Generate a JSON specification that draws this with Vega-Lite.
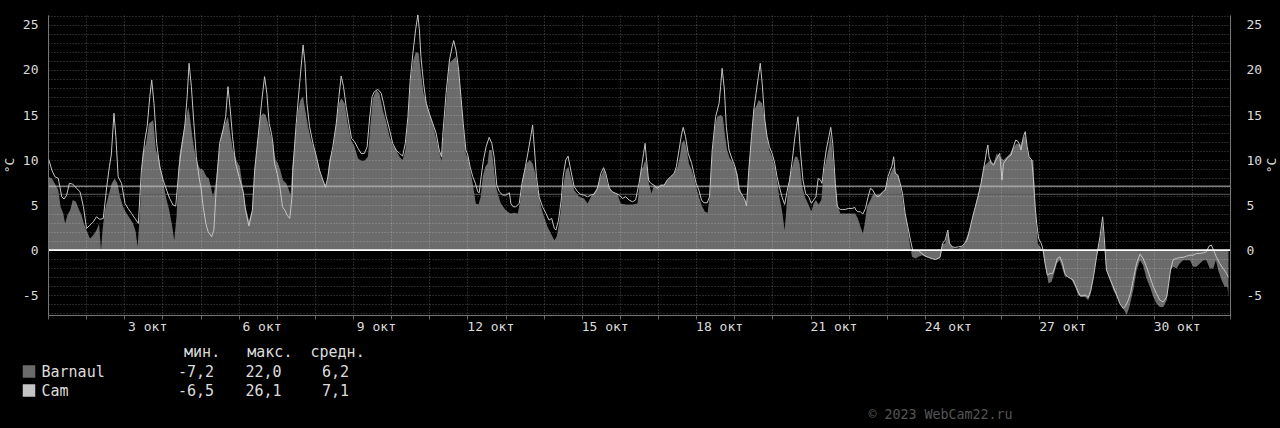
{
  "$schema": "https://vega.github.io/schema/vega-lite/v6.json",
  "background": "#000000",
  "autosize": {"type": "none"},
  "padding": {"left": 48, "top": 15, "right": 50, "bottom": 113},
  "width": 1182,
  "height": 300,
  "config": {
    "view": {"stroke": null},
    "font": "DejaVu Sans Mono",
    "axis": {"labelFont": "DejaVu Sans Mono", "titleFont": "DejaVu Sans Mono", "labelColor": "#dcdcdc", "titleColor": "#dcdcdc", "labelFontSize": 13, "titleFontSize": 13, "titleFontWeight": "normal"}
  },
  "datasets": {
    "barnaul": [
      {"d":0.01,"v":8.15},{"d":0.10,"v":7.96},{"d":0.18,"v":7.41},{"d":0.27,"v":6.67},{"d":0.33,"v":4.81},{"d":0.40,"v":4.07},{"d":0.45,"v":2.96},{"d":0.51,"v":3.89},{"d":0.58,"v":4.44},{"d":0.65,"v":5.56},{"d":0.73,"v":5.37},{"d":0.82,"v":4.44},{"d":0.88,"v":3.89},{"d":0.94,"v":2.96},{"d":1.01,"v":2.22},{"d":1.10,"v":1.30},{"d":1.19,"v":1.67},{"d":1.27,"v":2.22},{"d":1.34,"v":2.96},{"d":1.39,"v":0.0},{"d":1.43,"v":2.22},{"d":1.49,"v":4.44},{"d":1.58,"v":5.93},{"d":1.67,"v":7.41},{"d":1.75,"v":7.96},{"d":1.82,"v":7.41},{"d":1.89,"v":5.93},{"d":1.97,"v":4.81},{"d":2.06,"v":4.07},{"d":2.15,"v":3.52},{"d":2.23,"v":2.96},{"d":2.30,"v":2.04},{"d":2.35,"v":0.37},{"d":2.41,"v":4.07},{"d":2.48,"v":10.74},{"d":2.57,"v":11.85},{"d":2.65,"v":14.07},{"d":2.76,"v":14.44},{"d":2.83,"v":11.11},{"d":2.92,"v":10.0},{"d":3.00,"v":8.15},{"d":3.09,"v":5.93},{"d":3.18,"v":4.44},{"d":3.26,"v":2.59},{"d":3.31,"v":1.11},{"d":3.37,"v":3.70},{"d":3.44,"v":10.37},{"d":3.53,"v":12.59},{"d":3.63,"v":14.81},{"d":3.68,"v":15.93},{"d":3.72,"v":14.81},{"d":3.81,"v":11.85},{"d":3.89,"v":10.0},{"d":3.98,"v":9.07},{"d":4.07,"v":8.89},{"d":4.16,"v":8.15},{"d":4.22,"v":7.96},{"d":4.29,"v":6.67},{"d":4.33,"v":5.93},{"d":4.40,"v":7.59},{"d":4.46,"v":10.0},{"d":4.55,"v":12.96},{"d":4.64,"v":14.07},{"d":4.72,"v":14.81},{"d":4.78,"v":12.96},{"d":4.85,"v":11.11},{"d":4.94,"v":10.0},{"d":5.03,"v":9.26},
      {"d":5.12,"v":6.67},{"d":5.18,"v":4.81},{"d":5.27,"v":3.33},{"d":5.36,"v":4.44},{"d":5.42,"v":8.89},{"d":5.51,"v":12.59},{"d":5.57,"v":14.81},{"d":5.64,"v":15.19},{"d":5.71,"v":15.0},{"d":5.77,"v":14.07},{"d":5.83,"v":12.96},{"d":5.90,"v":11.85},{"d":5.97,"v":10.0},{"d":6.03,"v":9.63},{"d":6.09,"v":8.89},{"d":6.16,"v":7.78},{"d":6.25,"v":7.41},{"d":6.32,"v":6.67},{"d":6.36,"v":6.11},{"d":6.41,"v":9.26},{"d":6.47,"v":11.85},{"d":6.56,"v":15.56},{"d":6.62,"v":16.67},{"d":6.69,"v":17.04},{"d":6.73,"v":15.93},{"d":6.82,"v":13.70},{"d":6.90,"v":12.22},{"d":6.99,"v":11.11},{"d":7.08,"v":9.63},{"d":7.17,"v":8.15},{"d":7.25,"v":7.41},{"d":7.31,"v":7.22},{"d":7.38,"v":10.0},{"d":7.47,"v":11.11},{"d":7.56,"v":14.07},{"d":7.63,"v":16.30},{"d":7.69,"v":16.85},{"d":7.78,"v":16.30},{"d":7.86,"v":14.07},{"d":7.95,"v":12.22},{"d":8.04,"v":11.48},{"d":8.13,"v":10.19},{"d":8.21,"v":9.93},{"d":8.30,"v":9.93},{"d":8.39,"v":10.37},{"d":8.45,"v":13.70},{"d":8.52,"v":16.85},{"d":8.61,"v":17.78},{"d":8.69,"v":17.41},{"d":8.78,"v":15.56},{"d":8.87,"v":14.26},{"d":8.96,"v":12.59},{"d":9.04,"v":11.67},{"d":9.13,"v":11.11},{"d":9.22,"v":10.37},{"d":9.30,"v":10.0},{"d":9.37,"v":11.11},{"d":9.44,"v":14.44},{"d":9.52,"v":19.26},{"d":9.58,"v":21.11},{"d":9.65,"v":22.0},{"d":9.72,"v":21.85},{"d":9.78,"v":19.63},{"d":9.85,"v":17.41},{"d":9.92,"v":16.48},{"d":10.00,"v":15.19},{"d":10.09,"v":14.07},{"d":10.18,"v":12.41},{"d":10.26,"v":10.93},{"d":10.32,"v":9.93},
      {"d":10.35,"v":11.85},{"d":10.44,"v":16.30},{"d":10.53,"v":20.74},{"d":10.61,"v":21.11},{"d":10.70,"v":21.48},{"d":10.77,"v":19.81},{"d":10.83,"v":17.04},{"d":10.89,"v":13.70},{"d":10.96,"v":10.74},{"d":11.03,"v":10.0},{"d":11.09,"v":8.52},{"d":11.14,"v":7.41},{"d":11.18,"v":6.30},{"d":11.22,"v":5.19},{"d":11.29,"v":5.07},{"d":11.35,"v":5.93},{"d":11.40,"v":8.15},{"d":11.47,"v":9.26},{"d":11.53,"v":9.63},{"d":11.57,"v":11.11},{"d":11.64,"v":11.11},{"d":11.69,"v":9.26},{"d":11.75,"v":7.04},{"d":11.82,"v":5.93},{"d":11.88,"v":5.19},{"d":11.97,"v":4.63},{"d":12.05,"v":4.26},{"d":12.14,"v":4.07},{"d":12.23,"v":4.15},{"d":12.32,"v":4.07},{"d":12.39,"v":5.56},{"d":12.46,"v":8.15},{"d":12.55,"v":9.63},{"d":12.64,"v":10.0},{"d":12.71,"v":9.63},{"d":12.78,"v":8.52},{"d":12.84,"v":6.67},{"d":12.93,"v":4.81},{"d":13.01,"v":3.70},{"d":13.10,"v":2.59},{"d":13.19,"v":1.85},{"d":13.28,"v":1.11},{"d":13.34,"v":1.48},{"d":13.39,"v":2.59},{"d":13.45,"v":4.44},{"d":13.51,"v":7.04},{"d":13.58,"v":8.89},{"d":13.65,"v":9.26},{"d":13.71,"v":8.15},{"d":13.80,"v":6.67},{"d":13.93,"v":5.93},{"d":14.06,"v":5.74},{"d":14.15,"v":5.19},{"d":14.24,"v":5.93},{"d":14.37,"v":6.67},{"d":14.50,"v":8.15},{"d":14.59,"v":9.07},{"d":14.67,"v":7.41},{"d":14.80,"v":6.48},{"d":14.93,"v":6.30},{"d":15.02,"v":5.19},{"d":15.15,"v":5.07},{"d":15.33,"v":5.07},{"d":15.46,"v":5.19},
      {"d":15.55,"v":8.89},{"d":15.61,"v":9.26},{"d":15.66,"v":10.0},{"d":15.71,"v":9.26},{"d":15.76,"v":7.41},{"d":15.83,"v":6.30},{"d":15.89,"v":7.22},{"d":15.98,"v":7.04},{"d":16.07,"v":7.22},{"d":16.16,"v":7.22},{"d":16.24,"v":7.78},{"d":16.33,"v":8.15},{"d":16.42,"v":8.52},{"d":16.51,"v":9.26},{"d":16.57,"v":10.37},{"d":16.62,"v":11.85},{"d":16.68,"v":12.22},{"d":16.74,"v":11.48},{"d":16.81,"v":9.63},{"d":16.88,"v":8.89},{"d":16.94,"v":8.15},{"d":17.00,"v":7.04},{"d":17.07,"v":5.93},{"d":17.16,"v":4.81},{"d":17.23,"v":4.26},{"d":17.30,"v":4.15},{"d":17.35,"v":5.93},{"d":17.42,"v":10.74},{"d":17.49,"v":13.70},{"d":17.55,"v":14.81},{"d":17.64,"v":15.0},{"d":17.70,"v":14.81},{"d":17.75,"v":12.96},{"d":17.81,"v":11.11},{"d":17.88,"v":10.19},{"d":17.95,"v":9.81},{"d":18.02,"v":9.07},{"d":18.08,"v":8.52},{"d":18.14,"v":7.04},{"d":18.21,"v":5.93},{"d":18.28,"v":5.56},{"d":18.32,"v":4.81},{"d":18.38,"v":8.89},{"d":18.45,"v":12.59},{"d":18.51,"v":15.56},{"d":18.57,"v":15.93},{"d":18.64,"v":16.67},{"d":18.73,"v":16.30},{"d":18.80,"v":14.44},{"d":18.86,"v":12.59},{"d":18.92,"v":11.11},{"d":18.99,"v":10.37},{"d":19.06,"v":9.26},{"d":19.12,"v":7.78},{"d":19.18,"v":5.93},{"d":19.25,"v":4.44},{"d":19.32,"v":2.22},{"d":19.39,"v":5.93},{"d":19.45,"v":8.15},{"d":19.52,"v":9.26},{"d":19.59,"v":10.37},{"d":19.65,"v":10.37},{"d":19.71,"v":9.63},{"d":19.78,"v":7.04},{"d":19.85,"v":5.93},{"d":19.91,"v":5.37},{"d":19.97,"v":4.81},{"d":20.02,"v":4.26},{"d":20.08,"v":5.19},{"d":20.14,"v":5.56},{"d":20.21,"v":5.07},{"d":20.28,"v":5.56},{"d":20.35,"v":8.89},{"d":20.41,"v":10.0},{"d":20.48,"v":11.48},{"d":20.53,"v":12.96},{"d":20.58,"v":10.37},{"d":20.65,"v":7.41},{"d":20.70,"v":5.19},{"d":20.78,"v":4.07},{"d":20.84,"v":4.07},
      {"d":20.91,"v":4.07},{"d":21.09,"v":4.07},{"d":21.17,"v":4.07},{"d":21.24,"v":3.52},{"d":21.31,"v":2.59},{"d":21.37,"v":1.85},{"d":21.42,"v":2.96},{"d":21.48,"v":4.81},{"d":21.57,"v":5.56},{"d":21.65,"v":6.30},{"d":21.74,"v":6.11},{"d":21.83,"v":6.30},{"d":21.92,"v":6.48},{"d":22.00,"v":7.41},{"d":22.09,"v":8.52},{"d":22.18,"v":9.26},{"d":22.24,"v":8.52},{"d":22.31,"v":8.15},{"d":22.38,"v":6.48},{"d":22.44,"v":4.81},{"d":22.53,"v":2.96},{"d":22.59,"v":1.11},{"d":22.66,"v":-0.74},{"d":22.75,"v":-0.93},{"d":22.83,"v":-0.74},{"d":22.92,"v":-0.56},{"d":23.01,"v":-0.74},{"d":23.14,"v":-0.93},{"d":23.27,"v":-1.04},{"d":23.40,"v":-0.93},{"d":23.46,"v":0.74},{"d":23.53,"v":0.74},{"d":23.60,"v":2.04},{"d":23.66,"v":0.74},{"d":23.75,"v":0.19},{"d":23.88,"v":0.19},{"d":24.01,"v":0.56},{"d":24.10,"v":1.48},{"d":24.19,"v":2.59},{"d":24.27,"v":4.07},{"d":24.36,"v":5.56},{"d":24.45,"v":7.04},{"d":24.54,"v":9.26},{"d":24.62,"v":9.63},{"d":24.71,"v":10.0},{"d":24.80,"v":9.63},{"d":24.88,"v":10.74},{"d":24.97,"v":10.37},{"d":25.06,"v":10.0},{"d":25.15,"v":10.37},{"d":25.23,"v":10.74},{"d":25.32,"v":11.48},{"d":25.41,"v":11.85},{"d":25.50,"v":11.67},{"d":25.56,"v":12.22},{"d":25.63,"v":12.78},{"d":25.70,"v":10.74},{"d":25.77,"v":10.0},{"d":25.84,"v":10.0},{"d":25.87,"v":7.41},{"d":25.91,"v":3.70},{"d":25.96,"v":0.74},{"d":26.02,"v":0.37},{"d":26.08,"v":0.0},
      {"d":26.18,"v":-2.22},{"d":26.24,"v":-3.70},{"d":26.32,"v":-3.52},{"d":26.39,"v":-2.59},{"d":26.46,"v":-1.48},{"d":26.53,"v":-1.11},{"d":26.59,"v":-1.85},{"d":26.67,"v":-2.96},{"d":26.76,"v":-2.96},{"d":26.85,"v":-3.33},{"d":26.94,"v":-4.07},{"d":27.02,"v":-5.0},{"d":27.11,"v":-5.19},{"d":27.20,"v":-5.19},{"d":27.28,"v":-5.56},{"d":27.35,"v":-4.81},{"d":27.42,"v":-2.96},{"d":27.50,"v":-0.74},{"d":27.59,"v":1.11},{"d":27.66,"v":2.96},{"d":27.70,"v":0.74},{"d":27.76,"v":-2.22},{"d":27.85,"v":-3.33},{"d":27.94,"v":-4.44},{"d":28.03,"v":-5.19},{"d":28.11,"v":-5.93},{"d":28.20,"v":-6.48},{"d":28.29,"v":-7.19},{"d":28.36,"v":-6.30},{"d":28.42,"v":-5.19},{"d":28.48,"v":-4.07},{"d":28.55,"v":-2.22},{"d":28.64,"v":-1.11},{"d":28.72,"v":-1.67},{"d":28.81,"v":-3.15},{"d":28.90,"v":-4.07},{"d":28.99,"v":-5.19},{"d":29.07,"v":-5.93},{"d":29.16,"v":-6.30},{"d":29.25,"v":-6.30},{"d":29.34,"v":-5.56},{"d":29.38,"v":-4.07},{"d":29.44,"v":-2.22},{"d":29.51,"v":-1.85},{"d":29.60,"v":-2.04},{"d":29.68,"v":-1.48},{"d":29.77,"v":-1.11},{"d":29.86,"v":-1.11},{"d":29.95,"v":-1.11},{"d":30.03,"v":-1.85},{"d":30.12,"v":-1.85},{"d":30.21,"v":-1.48},{"d":30.30,"v":-1.11},{"d":30.38,"v":-1.11},{"d":30.47,"v":-2.04},{"d":30.56,"v":-2.04},{"d":30.63,"v":-1.11},{"d":30.69,"v":-2.22},{"d":30.78,"v":-3.33},{"d":30.86,"v":-4.07},{"d":30.93,"v":-4.07},{"d":30.96,"v":-5.19}
    ],
    "cam": [
      {"d":0.01,"v":10.19},{"d":0.10,"v":8.89},{"d":0.18,"v":8.15},{"d":0.27,"v":7.96},{"d":0.36,"v":5.93},{"d":0.42,"v":5.67},{"d":0.49,"v":6.11},{"d":0.56,"v":7.41},{"d":0.65,"v":7.33},{"d":0.75,"v":6.85},{"d":0.84,"v":6.48},{"d":0.93,"v":4.81},{"d":1.01,"v":2.41},{"d":1.10,"v":2.78},{"d":1.19,"v":3.15},{"d":1.27,"v":3.70},{"d":1.36,"v":3.41},{"d":1.45,"v":3.52},{"d":1.54,"v":7.04},{"d":1.61,"v":9.26},{"d":1.66,"v":10.56},{"d":1.73,"v":15.19},{"d":1.78,"v":12.59},{"d":1.84,"v":8.15},{"d":1.93,"v":7.41},{"d":2.02,"v":5.19},{"d":2.10,"v":4.63},{"d":2.19,"v":4.07},{"d":2.28,"v":3.52},{"d":2.37,"v":2.96},{"d":2.45,"v":8.89},{"d":2.54,"v":12.22},{"d":2.60,"v":13.70},{"d":2.67,"v":17.04},{"d":2.72,"v":18.89},{"d":2.78,"v":16.30},{"d":2.85,"v":11.85},{"d":2.93,"v":9.26},{"d":3.02,"v":7.78},{"d":3.11,"v":6.67},{"d":3.19,"v":5.74},{"d":3.28,"v":5.0},{"d":3.35,"v":4.89},{"d":3.44,"v":9.26},{"d":3.50,"v":11.30},{"d":3.59,"v":13.89},{"d":3.65,"v":17.04},{"d":3.70,"v":20.74},{"d":3.76,"v":18.15},{"d":3.82,"v":14.44},{"d":3.89,"v":10.37},{"d":3.96,"v":8.15},{"d":4.02,"v":6.67},{"d":4.07,"v":4.81},{"d":4.14,"v":2.96},{"d":4.20,"v":2.04},{"d":4.29,"v":1.48},{"d":4.35,"v":2.22},{"d":4.42,"v":7.41},{"d":4.50,"v":11.85},{"d":4.59,"v":13.33},{"d":4.66,"v":14.81},{"d":4.72,"v":18.15},{"d":4.78,"v":15.56},{"d":4.84,"v":12.59},{"d":4.92,"v":9.63},{"d":5.01,"v":8.15},
      {"d":5.12,"v":6.48},{"d":5.18,"v":4.44},{"d":5.27,"v":2.67},{"d":5.36,"v":4.44},{"d":5.42,"v":8.89},{"d":5.51,"v":12.59},{"d":5.60,"v":16.30},{"d":5.68,"v":19.26},{"d":5.74,"v":17.41},{"d":5.80,"v":14.07},{"d":5.86,"v":12.96},{"d":5.90,"v":11.85},{"d":5.94,"v":9.63},{"d":6.01,"v":8.52},{"d":6.08,"v":7.04},{"d":6.15,"v":4.81},{"d":6.21,"v":4.44},{"d":6.27,"v":3.89},{"d":6.34,"v":3.52},{"d":6.40,"v":5.93},{"d":6.42,"v":8.89},{"d":6.51,"v":14.07},{"d":6.60,"v":18.52},{"d":6.69,"v":22.78},{"d":6.74,"v":20.74},{"d":6.79,"v":16.30},{"d":6.86,"v":13.70},{"d":6.95,"v":11.85},{"d":7.04,"v":10.37},{"d":7.12,"v":8.89},{"d":7.21,"v":7.78},{"d":7.28,"v":6.96},{"d":7.34,"v":8.15},{"d":7.40,"v":10.0},{"d":7.47,"v":11.48},{"d":7.56,"v":14.07},{"d":7.63,"v":17.04},{"d":7.69,"v":19.33},{"d":7.75,"v":18.15},{"d":7.82,"v":15.93},{"d":7.89,"v":14.07},{"d":7.96,"v":12.41},{"d":8.04,"v":12.04},{"d":8.13,"v":11.30},{"d":8.21,"v":10.74},{"d":8.30,"v":10.74},{"d":8.37,"v":11.48},{"d":8.43,"v":14.44},{"d":8.50,"v":17.04},{"d":8.56,"v":17.59},{"d":8.65,"v":17.85},{"d":8.74,"v":17.41},{"d":8.80,"v":16.30},{"d":8.87,"v":14.81},{"d":8.96,"v":13.33},{"d":9.04,"v":11.85},{"d":9.13,"v":11.11},{"d":9.22,"v":10.74},{"d":9.30,"v":10.44},{"d":9.37,"v":11.85},{"d":9.44,"v":14.81},{"d":9.50,"v":18.89},{"d":9.57,"v":21.85},{"d":9.64,"v":24.44},{"d":9.70,"v":26.11},{"d":9.74,"v":24.44},{"d":9.78,"v":21.48},{"d":9.85,"v":18.52},{"d":9.92,"v":16.30},{"d":10.00,"v":15.19},{"d":10.09,"v":14.07},{"d":10.18,"v":12.96},{"d":10.26,"v":11.11},{"d":10.32,"v":10.37},
      {"d":10.35,"v":12.59},{"d":10.44,"v":17.41},{"d":10.53,"v":21.11},{"d":10.60,"v":22.59},{"d":10.64,"v":23.26},{"d":10.70,"v":22.22},{"d":10.77,"v":20.0},{"d":10.83,"v":17.04},{"d":10.89,"v":14.07},{"d":10.96,"v":11.11},{"d":11.01,"v":10.56},{"d":11.07,"v":9.26},{"d":11.14,"v":8.15},{"d":11.21,"v":7.41},{"d":11.27,"v":6.48},{"d":11.31,"v":6.37},{"d":11.36,"v":8.15},{"d":11.42,"v":10.0},{"d":11.49,"v":11.48},{"d":11.57,"v":12.52},{"d":11.64,"v":11.85},{"d":11.70,"v":10.37},{"d":11.77,"v":7.22},{"d":11.84,"v":6.48},{"d":11.92,"v":6.11},{"d":12.01,"v":6.11},{"d":12.10,"v":6.37},{"d":12.14,"v":5.19},{"d":12.20,"v":4.81},{"d":12.27,"v":4.81},{"d":12.36,"v":5.19},{"d":12.43,"v":7.41},{"d":12.52,"v":9.26},{"d":12.60,"v":11.11},{"d":12.66,"v":12.59},{"d":12.71,"v":13.89},{"d":12.76,"v":11.11},{"d":12.81,"v":8.15},{"d":12.88,"v":5.93},{"d":12.97,"v":4.81},{"d":13.06,"v":4.07},{"d":13.14,"v":3.33},{"d":13.21,"v":3.52},{"d":13.28,"v":2.41},{"d":13.32,"v":2.22},{"d":13.39,"v":3.33},{"d":13.46,"v":5.56},{"d":13.51,"v":8.15},{"d":13.58,"v":10.0},{"d":13.64,"v":10.44},{"d":13.71,"v":8.89},{"d":13.80,"v":7.04},{"d":13.89,"v":6.48},{"d":13.97,"v":6.19},{"d":14.06,"v":6.11},{"d":14.15,"v":5.93},{"d":14.24,"v":6.11},{"d":14.32,"v":6.19},{"d":14.41,"v":6.85},{"d":14.50,"v":8.52},{"d":14.57,"v":9.15},{"d":14.63,"v":8.52},{"d":14.72,"v":6.85},{"d":14.80,"v":6.48},{"d":14.89,"v":6.30},{"d":14.98,"v":6.11},{"d":15.07,"v":5.74},{"d":15.15,"v":5.93},{"d":15.24,"v":5.56},{"d":15.33,"v":5.37},{"d":15.41,"v":5.56},{"d":15.50,"v":7.41},
      {"d":15.57,"v":9.26},{"d":15.62,"v":10.74},{"d":15.66,"v":11.85},{"d":15.69,"v":10.37},{"d":15.75,"v":7.78},{"d":15.81,"v":7.41},{"d":15.89,"v":7.22},{"d":15.98,"v":6.85},{"d":16.07,"v":7.22},{"d":16.16,"v":7.22},{"d":16.24,"v":7.78},{"d":16.33,"v":8.15},{"d":16.42,"v":8.52},{"d":16.48,"v":9.26},{"d":16.55,"v":11.11},{"d":16.62,"v":12.96},{"d":16.66,"v":13.63},{"d":16.72,"v":12.59},{"d":16.79,"v":10.74},{"d":16.88,"v":9.63},{"d":16.94,"v":8.52},{"d":17.00,"v":7.41},{"d":17.07,"v":6.67},{"d":17.14,"v":5.56},{"d":17.20,"v":5.26},{"d":17.29,"v":5.26},{"d":17.35,"v":5.93},{"d":17.42,"v":11.11},{"d":17.51,"v":14.81},{"d":17.60,"v":16.30},{"d":17.64,"v":18.15},{"d":17.68,"v":20.19},{"d":17.74,"v":17.78},{"d":17.79,"v":13.70},{"d":17.86,"v":11.11},{"d":17.95,"v":10.0},{"d":18.02,"v":9.26},{"d":18.08,"v":8.15},{"d":18.12,"v":6.67},{"d":18.21,"v":6.11},{"d":18.28,"v":5.56},{"d":18.32,"v":4.89},{"d":18.38,"v":8.89},{"d":18.45,"v":12.59},{"d":18.51,"v":15.56},{"d":18.57,"v":17.41},{"d":18.63,"v":19.26},{"d":18.68,"v":20.74},{"d":18.73,"v":18.52},{"d":18.80,"v":14.44},{"d":18.86,"v":12.59},{"d":18.92,"v":11.48},{"d":18.99,"v":10.74},{"d":19.06,"v":9.63},{"d":19.12,"v":8.15},{"d":19.18,"v":7.04},{"d":19.25,"v":5.93},{"d":19.32,"v":5.07},{"d":19.39,"v":6.67},{"d":19.45,"v":7.78},{"d":19.52,"v":10.0},{"d":19.59,"v":12.59},{"d":19.63,"v":13.70},{"d":19.67,"v":14.81},{"d":19.73,"v":11.11},{"d":19.80,"v":7.78},{"d":19.87,"v":6.30},{"d":19.95,"v":5.93},{"d":20.02,"v":5.19},{"d":20.08,"v":5.56},{"d":20.14,"v":5.93},{"d":20.20,"v":7.96},{"d":20.26,"v":7.78},{"d":20.30,"v":7.41},{"d":20.35,"v":9.26},{"d":20.41,"v":11.11},{"d":20.48,"v":12.59},{"d":20.53,"v":13.63},{"d":20.58,"v":11.85},{"d":20.65,"v":7.41},{"d":20.70,"v":4.81},{"d":20.78,"v":4.52},{"d":20.84,"v":4.52},
      {"d":20.91,"v":4.52},{"d":21.00,"v":4.63},{"d":21.09,"v":4.63},{"d":21.16,"v":4.74},{"d":21.19,"v":4.44},{"d":21.24,"v":4.26},{"d":21.31,"v":4.26},{"d":21.37,"v":4.0},{"d":21.44,"v":4.63},{"d":21.51,"v":5.93},{"d":21.57,"v":6.85},{"d":21.63,"v":6.67},{"d":21.70,"v":6.11},{"d":21.77,"v":5.93},{"d":21.83,"v":6.11},{"d":21.89,"v":6.48},{"d":21.96,"v":6.67},{"d":22.03,"v":8.15},{"d":22.09,"v":8.89},{"d":22.13,"v":9.26},{"d":22.18,"v":10.37},{"d":22.22,"v":8.52},{"d":22.29,"v":8.33},{"d":22.35,"v":7.41},{"d":22.41,"v":6.30},{"d":22.48,"v":4.07},{"d":22.55,"v":2.59},{"d":22.62,"v":1.11},{"d":22.68,"v":-0.07},{"d":22.75,"v":-0.07},{"d":22.83,"v":-0.07},{"d":22.92,"v":-0.37},{"d":23.01,"v":-0.67},{"d":23.10,"v":-0.81},{"d":23.18,"v":-0.93},{"d":23.27,"v":-1.04},{"d":23.34,"v":-0.93},{"d":23.40,"v":-0.74},{"d":23.46,"v":0.74},{"d":23.53,"v":1.11},{"d":23.60,"v":2.22},{"d":23.64,"v":0.74},{"d":23.71,"v":0.37},{"d":23.79,"v":0.30},{"d":23.88,"v":0.37},{"d":23.97,"v":0.44},{"d":24.04,"v":0.74},{"d":24.10,"v":1.11},{"d":24.17,"v":2.22},{"d":24.23,"v":3.33},{"d":24.32,"v":4.81},{"d":24.40,"v":6.11},{"d":24.47,"v":7.41},{"d":24.54,"v":9.07},{"d":24.58,"v":10.0},{"d":24.62,"v":11.11},{"d":24.65,"v":11.67},{"d":24.68,"v":10.37},{"d":24.74,"v":9.63},{"d":24.80,"v":9.44},{"d":24.84,"v":9.81},{"d":24.91,"v":10.37},{"d":24.96,"v":10.74},{"d":25.02,"v":7.78},{"d":25.06,"v":9.63},{"d":25.12,"v":10.0},{"d":25.19,"v":10.37},{"d":25.26,"v":10.56},{"d":25.32,"v":11.48},{"d":25.38,"v":12.22},{"d":25.45,"v":12.04},{"d":25.52,"v":11.11},{"d":25.58,"v":12.59},{"d":25.63,"v":13.15},{"d":25.68,"v":11.48},{"d":25.73,"v":10.37},{"d":25.80,"v":10.0},{"d":25.84,"v":8.15},{"d":25.89,"v":4.81},{"d":25.93,"v":2.96},{"d":25.98,"v":1.30},{"d":26.05,"v":0.74},{"d":26.10,"v":0.0},
      {"d":26.15,"v":-1.48},{"d":26.21,"v":-2.78},{"d":26.28,"v":-2.59},{"d":26.35,"v":-2.59},{"d":26.41,"v":-1.85},{"d":26.47,"v":-0.93},{"d":26.54,"v":-0.74},{"d":26.61,"v":-1.48},{"d":26.67,"v":-2.59},{"d":26.74,"v":-2.96},{"d":26.82,"v":-3.15},{"d":26.89,"v":-3.33},{"d":26.96,"v":-4.07},{"d":27.02,"v":-4.63},{"d":27.08,"v":-5.11},{"d":27.15,"v":-5.0},{"d":27.22,"v":-5.0},{"d":27.28,"v":-5.26},{"d":27.35,"v":-4.44},{"d":27.42,"v":-2.96},{"d":27.50,"v":-0.74},{"d":27.59,"v":1.48},{"d":27.66,"v":3.70},{"d":27.70,"v":1.48},{"d":27.76,"v":-2.22},{"d":27.85,"v":-3.15},{"d":27.94,"v":-4.07},{"d":28.03,"v":-5.0},{"d":28.11,"v":-5.93},{"d":28.20,"v":-6.48},{"d":28.27,"v":-6.11},{"d":28.33,"v":-5.56},{"d":28.39,"v":-4.81},{"d":28.46,"v":-3.33},{"d":28.55,"v":-1.48},{"d":28.64,"v":-0.44},{"d":28.72,"v":-0.93},{"d":28.81,"v":-1.85},{"d":28.90,"v":-2.96},{"d":28.99,"v":-4.07},{"d":29.07,"v":-4.81},{"d":29.16,"v":-5.56},{"d":29.25,"v":-5.74},{"d":29.34,"v":-5.19},{"d":29.38,"v":-4.07},{"d":29.44,"v":-2.22},{"d":29.51,"v":-1.04},{"d":29.60,"v":-0.93},{"d":29.68,"v":-0.81},{"d":29.77,"v":-0.81},{"d":29.86,"v":-0.67},{"d":29.95,"v":-0.56},{"d":30.03,"v":-0.56},{"d":30.12,"v":-0.37},{"d":30.21,"v":-0.37},{"d":30.30,"v":-0.30},{"d":30.38,"v":-0.19},{"d":30.45,"v":0.44},{"d":30.51,"v":0.56},{"d":30.57,"v":0.0},{"d":30.64,"v":-0.74},{"d":30.73,"v":-1.48},{"d":30.82,"v":-2.04},{"d":30.91,"v":-2.59},{"d":30.95,"v":-2.96}
    ],
    "avg": [{"s": "Barnaul", "v": 6.2}, {"s": "Cam", "v": 7.1}],
    "stats": [
      {"s": "Barnaul", "stat": "min", "v": -7.2}, {"s": "Barnaul", "stat": "max", "v": 22.0}, {"s": "Barnaul", "stat": "avg", "v": 6.2},
      {"s": "Cam", "stat": "min", "v": -6.5}, {"s": "Cam", "stat": "max", "v": 26.1}, {"s": "Cam", "stat": "avg", "v": 7.1}
    ]
  },
  "layer": [
    {
      "layer": [
        {
          "data": {"name": "barnaul"},
          "mark": {"type": "area", "interpolate": "linear", "opacity": 1},
          "encoding": {
            "x": {"field": "d", "type": "quantitative", "scale": {"domain": [0, 31], "nice": false, "zero": false},
              "axis": {"orient": "bottom", "values": [0,1,2,3,4,5,6,7,8,9,10,11,12,13,14,15,16,17,18,19,20,21,22,23,24,25,26,27,28,29,30,31], "grid": true, "gridColor": "#ffffff", "gridOpacity": 0.3, "gridDash": [1, 2], "labels": false, "ticks": true, "tickSize": 4, "tickColor": "#666666", "domain": true, "domainColor": "#777777", "title": null, "zindex": 1}},
            "y": {"field": "v", "type": "quantitative", "scale": {"domain": [-7.2, 26.1], "nice": false, "zero": false},
              "axis": {"orient": "left", "values": [-7,-6,-5,-4,-3,-2,-1,1,2,3,4,5,6,7,8,9,10,11,12,13,14,15,16,17,18,19,20,21,22,23,24,25,26], "grid": true, "gridColor": "#ffffff", "gridOpacity": 0.3, "gridDash": [1, 2], "labels": false, "ticks": false, "domain": true, "domainColor": "#777777", "title": null, "zindex": 1}},
            "y2": {"datum": 0},
            "color": {"datum": "Barnaul", "type": "nominal",
              "scale": {"domain": ["Barnaul", "Cam"], "range": ["#6b6b6b", "#c4c4c4"]},
              "legend": {"orient": "none", "legendX": -26.5, "legendY": 330, "direction": "vertical",
                "title": "\u200b\u00a0\u00a0\u00a0\u00a0\u00a0\u00a0\u00a0\u00a0\u00a0\u00a0\u00a0\u00a0\u00a0\u00a0\u00a0\u00a0\u00a0\u00a0мин.\u00a0\u00a0\u00a0макс.\u00a0\u00a0средн.",
                "titleFont": "DejaVu Sans Mono", "titleFontSize": 15, "titleFontWeight": "normal", "titleColor": "#dcdcdc", "titlePadding": 4, "titleLimit": 600,
                "labelFont": "DejaVu Sans Mono", "labelFontSize": 15, "labelColor": "#dcdcdc", "labelOffset": 5,
                "symbolType": "square", "symbolSize": 121, "rowPadding": 2, "padding": 0,
                "encode": {"symbols": {"update": {"fill": {"scale": "color", "field": "value"}, "stroke": {"value": "#8c8c8c"}, "strokeWidth": {"value": 1}, "opacity": {"value": 1}}}}}}
          }
        },
        {
          "data": {"name": "avg"},
          "mark": {"type": "rule", "strokeWidth": 1},
          "encoding": {
            "y": {"field": "v", "type": "quantitative", "scale": {"domain": [-7.2, 26.1], "nice": false, "zero": false}, "axis": null},
            "stroke": {"field": "s", "type": "nominal", "scale": {"domain": ["Barnaul", "Cam"], "range": ["#5c5c5c", "#c0c0c0"]}, "legend": null}
          }
        },
        {
          "data": {"name": "cam"},
          "mark": {"type": "line", "strokeWidth": 1, "interpolate": "linear"},
          "encoding": {
            "x": {"field": "d", "type": "quantitative", "scale": {"domain": [0, 31], "nice": false, "zero": false},
              "axis": {"orient": "bottom", "values": [2.6,5.6,8.6,11.6,14.6,17.6,20.6,23.6,26.6,29.6], "labelExpr": "(floor(datum.value) + 1) + ' окт'", "grid": false, "ticks": false, "domain": false, "labelPadding": 5, "labelFlush": false, "labelOverlap": false,
                "title": "© 2023 WebCam22.ru", "titleX": 892, "titleY": 99, "titleAlign": "center", "titleBaseline": "middle", "titleColor": "#555555", "titleFontSize": 13.3, "zindex": 1}},
            "y": {"field": "v", "type": "quantitative", "scale": {"domain": [-7.2, 26.1], "nice": false, "zero": false},
              "axis": {"orient": "left", "values": [-5,0,5,10,15,20,25], "labelExpr": "replace(datum.label, '−', '-')", "grid": false, "ticks": false, "domain": false, "labelPadding": 10, "title": "°C", "titlePadding": 6, "zindex": 1}},
            "color": {"datum": "Cam", "type": "nominal"}
          }
        },
        {
          "data": {"values": [{}]},
          "mark": {"type": "rule", "color": "#ffffff", "strokeWidth": 1.6},
          "encoding": {
            "y": {"datum": 0, "type": "quantitative", "scale": {"domain": [-7.2, 26.1], "nice": false, "zero": false},
              "axis": {"orient": "right", "values": [-5,0,5,10,15,20,25], "labelExpr": "replace(datum.label, '−', '-')", "grid": false, "ticks": false, "domain": true, "domainColor": "#777777", "labelPadding": 16, "title": "°C", "titleAngle": 270, "titlePadding": 17, "zindex": 1}}
          }
        }
      ],
      "resolve": {"axis": {"x": "independent", "y": "independent"}}
    },
    {
      "data": {"name": "stats"},
      "transform": [{"calculate": "replace(replace(format(datum.v, '.1f'), '.', ','), '−', '-')", "as": "txt"}],
      "mark": {"type": "text", "align": "right", "baseline": "middle", "font": "DejaVu Sans Mono", "fontSize": 15, "color": "#dcdcdc"},
      "encoding": {
        "x": {"field": "stat", "type": "nominal", "scale": {"type": "point", "domain": ["min", "max", "avg"], "range": [166, 301], "padding": 0}, "axis": null},
        "y": {"field": "s", "type": "nominal", "scale": {"type": "point", "domain": ["Barnaul", "Cam"], "range": [356.5, 375.5], "padding": 0}, "axis": null},
        "text": {"field": "txt"}
      }
    }
  ],
  "resolve": {"scale": {"x": "independent", "y": "independent"}}
}
